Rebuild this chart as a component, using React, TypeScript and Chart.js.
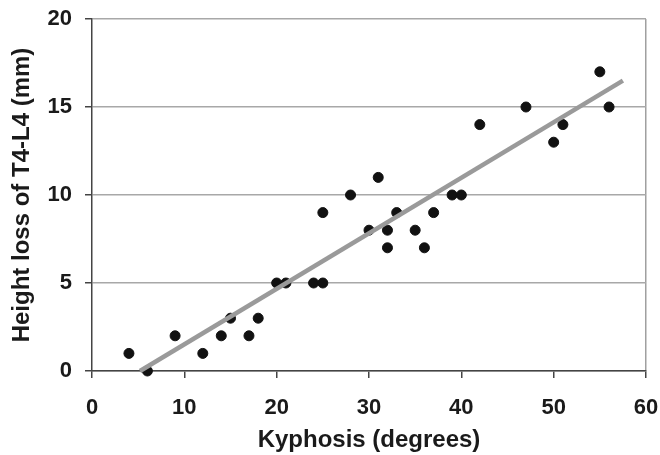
import React, { useEffect, useRef } from "react";
import { Chart, registerables } from "chart.js";

Chart.register(...registerables);

const kyphosis = [4, 6, 9, 12, 14, 15, 17, 18, 20, 21, 24, 25, 25, 28, 30, 31, 32, 32, 33, 35, 36, 37, 39, 40, 42, 47, 50, 51, 55, 56];
const heightLoss = [1, 0, 2, 1, 2, 3, 2, 3, 5, 5, 5, 5, 9, 10, 8, 11, 8, 7, 9, 8, 7, 9, 10, 10, 14, 15, 13, 14, 17, 15];
const trendX = [5.2, 57.5];
const trendY = [0, 16.5];
const xTicks = [0, 10, 20, 30, 40, 50, 60];
const yTicks = [0, 5, 10, 15, 20];

export default function App() {
  const ref = useRef<HTMLCanvasElement>(null);
  useEffect(() => {
    if (!ref.current) return;
    const font = "'Liberation Sans', Arial, sans-serif";
    const chart = new Chart(ref.current, {
      type: "scatter",
      data: {
        datasets: [
          {
            type: "line",
            data: trendX.map((x, i) => ({ x, y: trendY[i] })),
            borderColor: "#9a9a9a",
            borderWidth: 4.5,
            pointRadius: 0,
            clip: false,
          } as any,
          {
            data: kyphosis.map((x, i) => ({ x, y: heightLoss[i] })),
            backgroundColor: "#111111",
            borderColor: "#111111",
            pointRadius: 5,
            clip: false,
          } as any,
        ],
      },
      options: {
        animation: false,
        responsive: false,
        layout: { padding: { left: 0, right: 14, top: 19, bottom: 0 } },
        plugins: { legend: { display: false }, tooltip: { enabled: false } },
        scales: {
          x: {
            type: "linear",
            min: 0,
            max: 60,
            afterBuildTicks: (s: any) => {
              s.ticks = xTicks.map((v) => ({ value: v }));
            },
            afterFit: (s: any) => {
              s.height = 84;
              s.paddingLeft = 0;
              s.paddingRight = 0;
            },
            ticks: { color: "#1a1a1a", font: { family: font, size: 22, weight: "bold" }, padding: 17 },
            grid: {
              color: (c: any) => (c.tick && c.tick.value === 60 ? "#a0a0a0" : "rgba(0,0,0,0)"),
              tickColor: "#444444",
              tickLength: 7,
              lineWidth: 1.5,
            },
            border: { color: "#444444", width: 1.5 },
            title: {
              display: true,
              text: "Kyphosis (degrees)",
              color: "#1a1a1a",
              font: { family: font, size: 24, weight: "bold" },
              padding: { top: 0, bottom: 0 },
            },
          },
          y: {
            type: "linear",
            min: 0,
            max: 20,
            afterBuildTicks: (s: any) => {
              s.ticks = yTicks.map((v) => ({ value: v }));
            },
            afterFit: (s: any) => {
              s.width = 92;
              s.paddingTop = 0;
              s.paddingBottom = 0;
            },
            ticks: { color: "#1a1a1a", font: { family: font, size: 22, weight: "bold" }, padding: 13 },
            grid: {
              color: "#a8a8a8",
              tickColor: "#444444",
              tickLength: 7,
              lineWidth: 1.5,
            },
            border: { color: "#444444", width: 1.5 },
            title: {
              display: true,
              text: "Height loss of T4-L4 (mm)",
              color: "#1a1a1a",
              font: { family: font, size: 24, weight: "bold" },
              padding: { top: 8, bottom: 0 },
            },
          },
        },
      },
    });
    return () => chart.destroy();
  }, []);
  return (
    <div style={{ position: "absolute", left: 0, top: 0, width: 660, height: 455, background: "#fff" }}>
      <canvas ref={ref} width={660} height={455} />
    </div>
  );
}
